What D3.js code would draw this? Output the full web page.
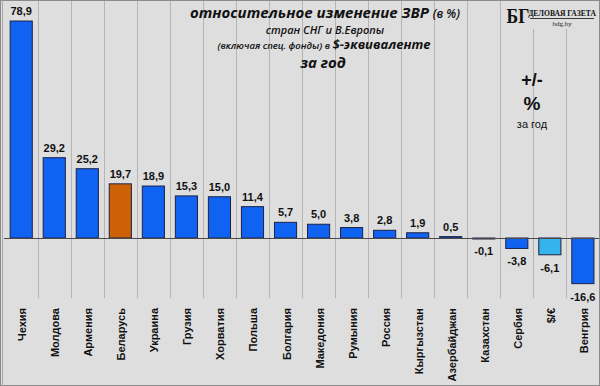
<!DOCTYPE html>
<html>
<head>
<meta charset="utf-8">
<script src="https://cdn.jsdelivr.net/npm/d3@7"></script>
<style>
  body { margin: 0; background: #fff; }
  svg { display: block; }
</style>
</head>
<body>
<svg id="chart" width="600" height="386"></svg>
<script>
// reserves change, % over the year
const countries = ['Чехия', 'Молдова', 'Армения', 'Беларусь', 'Украина', 'Грузия', 'Хорватия',
  'Польша', 'Болгария', 'Македония', 'Румыния', 'Россия', 'Кыргызстан', 'Азербайджан',
  'Казахстан', 'Сербия', '$/€', 'Венгрия'];
const changes = [78.9, 29.2, 25.2, 19.7, 18.9, 15.3, 15.0, 11.4, 5.7, 5.0, 3.8, 2.8, 1.9, 0.5,
  -0.1, -3.8, -6.1, -16.6];

const W = 600, H = 386;
const svg = d3.select('#chart');

const COLOR = {
  base:  '#0f62f2',
  home:  '#cc6108',   // Беларусь
  fx:    '#35b3ec',   // $/€
};
const barColor = c => c === 'Беларусь' ? COLOR.home : c === '$/€' ? COLOR.fx : COLOR.base;

// background + frame
svg.append('rect')
  .attr('x', 0.5).attr('y', 0.5)
  .attr('width', W - 1).attr('height', H - 1)
  .attr('fill', '#dedede')
  .attr('stroke', '#8a8a8a')
  .attr('stroke-width', 1);
svg.append('line')
  .attr('x1', 2.5).attr('x2', 2.5).attr('y1', 0).attr('y2', H)
  .attr('stroke', '#a8a8a8');

const x = d3.scaleBand()
  .domain(countries)
  .range([4.7, 599.4])
  .paddingInner(0.33)
  .paddingOuter(0.165);

const y = d3.scaleLinear()
  .domain([-20, 80])
  .range([293, 18]);

const plotTop = 0, plotBottom = 298;

// vertical grid at category boundaries
const step = x.step();
const bounds = d3.range(countries.length + 1).map(i => x.range()[0] + i * step);
svg.append('g')
  .selectAll('line')
  .data(bounds.slice(1, -1))
  .join('line')
  .attr('x1', d => Math.round(d) + 0.5).attr('x2', d => Math.round(d) + 0.5)
  .attr('y1', plotTop + 1).attr('y2', plotBottom)
  .attr('stroke', '#b4b4b4')
  .attr('stroke-width', 1);

// bars
svg.append('g')
  .selectAll('rect')
  .data(countries)
  .join('rect')
  .attr('x', d => x(d))
  .attr('width', x.bandwidth())
  .attr('y', (d, i) => y(Math.max(0, changes[i])))
  .attr('height', (d, i) => Math.max(1, Math.abs(y(changes[i]) - y(0))))
  .attr('fill', d => barColor(d))
  .attr('stroke', '#1c2244')
  .attr('stroke-width', 1);

// zero line
svg.append('line')
  .attr('x1', 4).attr('x2', 599)
  .attr('y1', Math.round(y(0)) + 0.5).attr('y2', Math.round(y(0)) + 0.5)
  .attr('stroke', '#4a4a4a')
  .attr('stroke-width', 1);

// value labels
const fmt = v => d3.format('.1f')(v).replace('.', ',').replace('−', '-');
svg.append('g')
  .selectAll('text')
  .data(countries)
  .join('text')
  .attr('x', d => x(d) + x.bandwidth() / 2)
  .attr('y', (d, i) => changes[i] >= 0 ? y(changes[i]) - 6 : y(changes[i]) + 17)
  .attr('text-anchor', 'middle')
  .attr('font-family', 'Liberation Sans, Arial, sans-serif')
  .attr('font-weight', 'bold')
  .attr('font-size', 11)
  .attr('fill', '#111')
  .text((d, i) => fmt(changes[i]));

// category labels (rotated)
svg.append('g')
  .selectAll('text')
  .data(countries)
  .join('text')
  .attr('transform', d => `translate(${x(d) + x.bandwidth() / 2 + 5},308) rotate(-90)`)
  .attr('text-anchor', 'end')
  .attr('font-family', 'Liberation Sans, Arial, sans-serif')
  .attr('font-weight', 'bold')
  .attr('font-size', 11)
  .attr('fill', '#111')
  .text(d => d);

// title block
const tf = 'Open Sans, Noto Sans, sans-serif';
const t1 = svg.append('text').attr('x', 325).attr('y', 18).attr('text-anchor', 'middle')
  .attr('font-family', tf).attr('font-style', 'italic').attr('fill', '#111');
t1.append('tspan').attr('font-weight', 'bold').attr('font-size', 15).text('относительное изменение  ЗВР ');
t1.append('tspan').attr('font-size', 12).attr('font-weight', 600).text('(в %)');

svg.append('text').attr('x', 325).attr('y', 34).attr('text-anchor', 'middle')
  .attr('font-family', tf).attr('font-style', 'italic').attr('font-weight', 600)
  .attr('font-size', 11).attr('fill', '#111')
  .text('стран СНГ и В.Европы');

const t3 = svg.append('text').attr('x', 324).attr('y', 49).attr('text-anchor', 'middle')
  .attr('font-family', tf).attr('font-style', 'italic').attr('fill', '#111');
t3.append('tspan').attr('font-size', 9.5).attr('font-weight', 600).text('(включая  спец.  фонды) в ');
t3.append('tspan').attr('font-size', 13).attr('font-weight', 'bold').text('$-эквиваленте');

svg.append('text').attr('x', 323).attr('y', 68).attr('text-anchor', 'middle')
  .attr('font-family', tf).attr('font-style', 'italic').attr('font-weight', 'bold')
  .attr('font-size', 15).attr('fill', '#111')
  .text('за год');

// side note
const nf = 'Liberation Sans, Arial, sans-serif';
svg.append('text').attr('x', 532).attr('y', 86).attr('text-anchor', 'middle')
  .attr('font-family', nf).attr('font-weight', 'bold').attr('font-size', 18).attr('fill', '#111')
  .text('+/-');
svg.append('text').attr('x', 532).attr('y', 110).attr('text-anchor', 'middle')
  .attr('font-family', nf).attr('font-weight', 'bold').attr('font-size', 19).attr('fill', '#111')
  .text('%');
svg.append('text').attr('x', 532).attr('y', 128).attr('text-anchor', 'middle')
  .attr('font-family', nf).attr('font-size', 11).attr('fill', '#111')
  .text('за год');

// newspaper logo
const lg = svg.append('g');
lg.append('rect').attr('x', 506).attr('y', 1).attr('width', 92).attr('height', 28).attr('fill', '#dedede');
lg.append('text').attr('x', 518).attr('y', 23).attr('text-anchor', 'middle')
  .attr('font-family', 'Liberation Serif, serif').attr('font-weight', 'bold')
  .attr('font-size', 22).attr('fill', '#111').attr('transform', 'translate(518,0) scale(0.8,1) translate(-518,0)')
  .text('БГ');
lg.append('text').attr('x', 562).attr('y', 16).attr('text-anchor', 'middle')
  .attr('font-family', 'Liberation Serif, serif').attr('font-weight', 'bold')
  .attr('font-size', 7.6).attr('fill', '#111')
  .text('ДЕЛОВАЯ ГАЗЕТА');
lg.append('line').attr('x1', 530).attr('x2', 594).attr('y1', 18.5).attr('y2', 18.5)
  .attr('stroke', '#111').attr('stroke-width', 0.8);
lg.append('text').attr('x', 562).attr('y', 26).attr('text-anchor', 'middle')
  .attr('font-family', 'Liberation Serif, serif')
  .attr('font-size', 7).attr('fill', '#222')
  .text('bdg.by');
</script>
</body>
</html>
